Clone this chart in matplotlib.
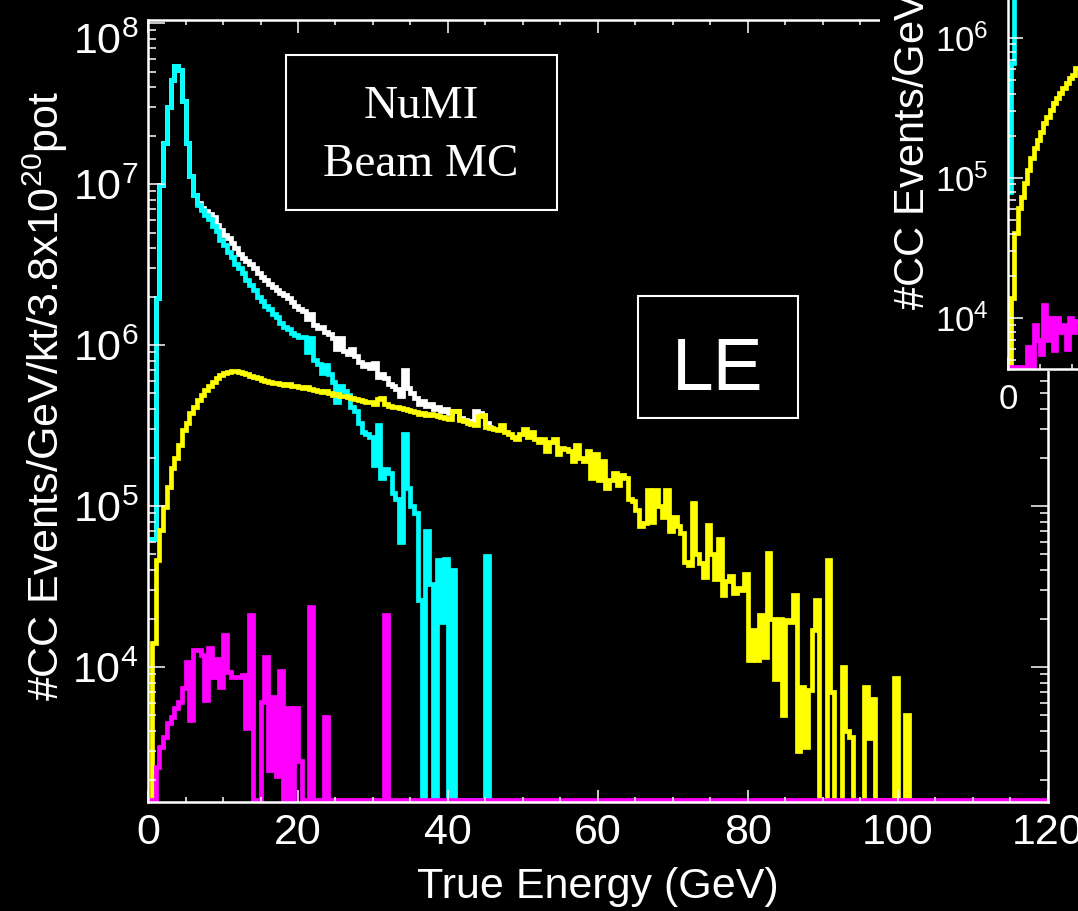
import numpy as np
import matplotlib
matplotlib.use("Agg")
import matplotlib.pyplot as plt
from matplotlib.patches import Rectangle
from matplotlib.transforms import ScaledTranslation
from matplotlib.ticker import LogLocator, LogFormatterSciNotation, MultipleLocator, NullFormatter

plt.rcParams['font.family'] = ['Liberation Sans', 'DejaVu Sans']
plt.rcParams['mathtext.fontset'] = 'custom'
plt.rcParams['mathtext.rm'] = 'Liberation Sans'
plt.rcParams['mathtext.it'] = 'Liberation Sans:italic'
plt.rcParams['mathtext.bf'] = 'Liberation Sans:bold'

# histograms, 0.5 GeV bins starting at 0 GeV (0 = empty bin)
bin_width = 0.5

h_total = [
    6.2e4, 6.2e4, 1.96e6, 9.9e6, 1.8e7, 3.0e7, 4.4e7, 5.4e7, 5.1e7, 3.3e7,      # 0-5
    1.8e7, 1.13e7, 8.5e6, 7.6e6, 7.1e6, 6.8e6, 6.5e6, 6.2e6, 5.6e6, 5.2e6,     # 5-10
    4.8e6, 4.6e6, 4.3e6, 4.0e6, 3.7e6, 3.45e6, 3.35e6, 3.2e6, 3.0e6, 2.8e6,    # 10-15
    2.65e6, 2.55e6, 2.4e6, 2.3e6, 2.2e6, 2.1e6, 2.05e6, 1.95e6, 1.85e6, 1.75e6,  # 15-20
    1.68e6, 1.62e6, 1.45e6, 1.55e6, 1.33e6, 1.28e6, 1.3e6, 1.2e6, 1.17e6, 1.1e6,  # 20-25
    9.4e5, 1.1e6, 9.2e5, 8.8e5, 9.5e5, 8.5e5, 7.9e5, 7.4e5, 7.6e5, 7.2e5,      # 25-30
    7.7e5, 6.3e5, 6.6e5, 6.2e5, 5.7e5, 5.6e5, 5.3e5, 4.8e5, 7.0e5, 5.4e5,      # 30-35
    5.0e5, 4.7e5, 4.3e5, 4.5e5, 4.2e5, 4.3e5, 4.0e5, 4.1e5, 3.9e5, 4.0e5,      # 35-40
    3.8e5, 3.9e5, 3.9e5, 3.5e5, 3.4e5, 3.35e5, 3.3e5, 3.9e5, 3.8e5, 3.7e5,     # 40-45
    3.3e5, 3.1e5,                                                              # 45-46
]

h_pi = [
    6.2e4, 6.2e4, 1.96e6, 9.9e6, 1.8e7, 3.0e7, 4.4e7, 5.4e7, 5.1e7, 3.3e7,      # 0-5
    1.8e7, 1.13e7, 8.5e6, 7.4e6, 6.9e6, 6.4e6, 6.1e6, 5.5e6, 5.1e6, 4.5e6,     # 5-10
    4.2e6, 3.8e6, 3.5e6, 3.2e6, 3.0e6, 2.8e6, 2.55e6, 2.35e6, 2.2e6, 2.0e6,    # 10-15
    1.88e6, 1.75e6, 1.68e6, 1.55e6, 1.5e6, 1.38e6, 1.3e6, 1.25e6, 1.18e6, 1.15e6,  # 15-20
    1.12e6, 1.12e6, 9.0e5, 1.1e6, 8.1e5, 7.6e5, 6.7e5, 7.5e5, 6.6e5, 5.9e5,    # 20-25
    4.4e5, 5.6e5, 5.2e5, 4.9e5, 4.1e5, 3.9e5, 3.3e5, 2.9e5, 2.8e5, 2.7e5,      # 25-30
    1.8e5, 3.2e5, 1.5e5, 1.7e5, 1.6e5, 1.2e5, 1.1e5, 6.0e4, 2.8e5, 1.3e5,      # 30-35
    1.0e5, 9.0e4, 2.6e4, 0, 7.0e4, 3.3e4, 0, 4.6e4, 1.9e4, 4.7e4,             # 35-40
    0, 4.0e4, 0, 0, 0, 0, 0, 0, 0, 0,                                          # 40-45
    4.9e4, 0,                                                                  # 45-46
]

h_k = [
    0, 1.4e4, 4.6e4, 7.1e4, 9.9e4, 1.31e5, 1.72e5, 2.0e5, 2.4e5, 2.97e5,       # 0-5
    3.3e5, 3.8e5, 4.1e5, 4.55e5, 4.9e5, 5.25e5, 5.6e5, 5.9e5, 6.2e5, 6.5e5,    # 5-10
    6.7e5, 6.8e5, 6.85e5, 6.85e5, 6.8e5, 6.7e5, 6.6e5, 6.4e5, 6.3e5, 6.2e5,    # 10-15
    6.1e5, 6.0e5, 5.9e5, 5.85e5, 5.8e5, 5.75e5, 5.65e5, 5.7e5, 5.6e5, 5.55e5,  # 15-20
    5.5e5, 5.4e5, 5.45e5, 5.3e5, 5.25e5, 5.2e5, 5.1e5, 5.15e5, 5.0e5, 4.9e5,   # 20-25
    4.95e5, 4.85e5, 4.8e5, 4.75e5, 4.7e5, 4.6e5, 4.55e5, 4.5e5, 4.45e5, 4.4e5,  # 25-30
    4.3e5, 4.6e5, 4.7e5, 4.3e5, 4.2e5, 4.1e5, 4.15e5, 4.05e5, 4.0e5, 3.95e5,   # 30-35
    3.9e5, 3.85e5, 3.75e5, 3.8e5, 3.7e5, 3.75e5, 3.65e5, 3.6e5, 3.55e5, 3.5e5,  # 35-40
    3.45e5, 3.9e5, 3.9e5, 3.4e5, 3.35e5, 3.3e5, 3.25e5, 3.2e5, 3.6e5, 3.7e5,   # 40-45
    3.1e5, 3.05e5, 3.0e5, 2.95e5, 3.2e5, 2.9e5, 2.8e5, 2.7e5, 2.6e5, 2.8e5,    # 45-50
    3.0e5, 2.7e5, 2.9e5, 2.6e5, 2.5e5, 2.6e5, 2.2e5, 2.5e5, 2.6e5, 2.1e5,      # 50-55
    2.3e5, 2.25e5, 2.2e5, 1.9e5, 2.4e5, 2.0e5, 1.9e5, 2.2e5, 1.5e5, 2.1e5,     # 55-60
    1.45e5, 1.9e5, 1.3e5, 1.45e5, 1.6e5, 1.35e5, 1.55e5, 1.5e5, 1.1e5, 1.08e5,  # 60-65
    9.5e4, 7.5e4, 7.8e4, 1.25e5, 8.0e4, 1.25e5, 1.0e5, 8.5e4, 1.26e5, 7.0e4,   # 65-70
    8.5e4, 7.5e4, 6.8e4, 4.5e4, 4.3e4, 1.05e5, 5.0e4, 4.4e4, 3.6e4, 7.6e4,     # 70-75
    5.0e4, 3.5e4, 6.2e4, 2.8e4, 3.4e4, 3.7e4, 2.9e4, 3.1e4, 3.0e4, 3.8e4,      # 75-80
    1.1e4, 1.7e4, 1.1e4, 2.1e4, 1.15e4, 5.1e4, 2.0e4, 8.4e3, 2.0e4, 5.0e3,     # 80-85
    1.95e4, 1.9e4, 2.8e4, 3.0e3, 7.5e3, 3.2e3, 7.2e3, 1.7e4, 2.6e4, 0,         # 85-90
    0, 4.6e4, 7.0e3, 0, 0, 1.0e4, 4.0e3, 3.7e3, 0, 0,                          # 90-95
    0, 7.5e3, 3.6e3, 6.3e3, 0, 0, 0, 0, 0, 8.5e3,                              # 95-100
    0, 0, 5.0e3, 0,                                                            # 100-102
]

h_mu = [
    0, 0, 2.4e3, 3.2e3, 3.7e3, 4.5e3, 4.9e3, 5.6e3, 6.1e3, 7.4e3,              # 0-5
    1.07e4, 4.7e3, 1.28e4, 1.28e4, 1.19e4, 6.2e3, 1.31e4, 8.7e3, 1.12e4, 7.5e3,  # 5-10
    1.58e4, 9.3e3, 8.7e3, 8.7e3, 8.7e3, 8.9e3, 4.2e3, 2.1e4, 0, 0,             # 10-15
    6.1e3, 1.16e4, 2.3e3, 6.5e3, 2.1e3, 9.5e3, 0, 5.6e3, 0, 5.6e3,             # 15-20
    2.6e3, 0, 0, 2.36e4, 0, 0, 0, 4.9e3, 0, 0,                                 # 20-25
    0, 0, 0, 0, 0, 0, 0, 0, 0, 0,                                              # 25-30
    0, 0, 0, 2.1e4,                                                            # 30-32
] + [0] * 176                                                                  # 32-120

# second panel on the slide (only its low-energy corner is shown)
inset_pi = [7.9e4, 6.6e5, 3.0e6]
inset_k = [0, 1.39e4, 4.05e4, 6.1e4, 7.3e4, 9.2e4, 1.14e5, 1.39e5, 1.64e5, 1.87e5,
           2.13e5, 2.47e5, 2.73e5, 3.06e5, 3.43e5, 3.73e5, 4.05e5, 4.4e5, 4.77e5,
           5.18e5, 5.44e5, 6.1e5]
inset_mu = [0, 0, 0, 0, 0, 0, 6.2e3, 0, 8.9e3, 7.0e3, 5.5e3, 1.24e4, 7.0e3, 1.0e4,
            5.9e3, 1.0e4, 8.0e3, 9.0e3, 6.0e3, 1.0e4, 8.0e3, 9.5e3]

W, H = 1078, 911
LW = 3.4


def fx(px):
    return px / W


def fy(py):
    return 1 - py / H


def draw_hists(ax, series, floor):
    for vals, col in series:
        v = np.maximum(np.asarray(vals, float), floor)
        edges = np.arange(len(v) + 1) * bin_width
        ax.stairs(v, edges, baseline=None, color=col, lw=LW, joinstyle='miter')


def log_axis(ax):
    ax.yaxis.set_major_locator(LogLocator(base=10, numticks=20))
    ax.yaxis.set_minor_locator(LogLocator(base=10, subs=np.arange(2, 10), numticks=20))
    ax.yaxis.set_major_formatter(LogFormatterSciNotation())
    ax.yaxis.set_minor_formatter(NullFormatter())
    ax.xaxis.set_major_locator(MultipleLocator(20))
    ax.xaxis.set_minor_locator(MultipleLocator(5))
    for s in ax.spines.values():
        s.set_color('white')
        s.set_linewidth(1.8)


fig = plt.figure(figsize=(W / 100, H / 100), dpi=100, facecolor='black')

# main LE panel
ax = fig.add_axes([fx(148), fy(802), fx(1048) - fx(148), fy(20) - fy(802)])
ax.set_facecolor('black')
ax.set_yscale('log')
ax.set_xlim(0, 120)
ax.set_ylim(1.45e3, 1.045e8)

draw_hists(ax, [(h_total, 'white'), (h_pi, '#00ffff'),
                (h_k, '#ffff00'), (h_mu, '#ff00ff')], 1.5e3)
log_axis(ax)

ax.tick_params(which='both', direction='in', colors='white', top=True, right=True,
               labelsize=31, width=1.1)
ax.tick_params(axis='y', which='major', length=12, pad=7)
ax.tick_params(axis='y', which='minor', length=6)
ax.tick_params(axis='x', which='major', length=9, pad=8)
ax.tick_params(axis='x', which='minor', length=3.6)

ax.set_xlabel('True Energy (GeV)', color='white', fontsize=31, labelpad=10)
ax.set_ylabel('#CC Events/GeV/kt/3.8x10$^{20}$pot', color='white', fontsize=31)
ax.yaxis.set_label_coords(-0.087, 0.519)

# NuMI label box
ax.add_patch(Rectangle((0.1533, 0.757), 0.301, 0.198, transform=ax.transAxes,
                       fill=False, ec='white', lw=1.5))
ax.text(0.3033, 0.889, 'NuMI', transform=ax.transAxes, ha='center', va='center',
        color='white', fontsize=34, family='Liberation Serif')
ax.text(0.3033, 0.8146, 'Beam MC', transform=ax.transAxes, ha='center', va='center',
        color='white', fontsize=34, family='Liberation Serif')

# LE tag
ax.add_patch(Rectangle((0.5444, 0.491), 0.1778, 0.156, transform=ax.transAxes,
                       fill=False, ec='white', lw=1.5))
ax.text(0.6333, 0.5524, 'LE', transform=ax.transAxes, ha='center', va='center',
        color='white', fontsize=54)

# neighbouring panel pasted over the top right corner
fig.patches.append(Rectangle((fx(880), fy(371)), 1 - fx(880), fy(0) - fy(371),
                             transform=fig.transFigure, fc='black', ec='none', zorder=1))

ax2 = fig.add_axes([fx(1008), fy(369), 128 / W, fy(0) - fy(369)], zorder=2)
ax2.set_facecolor('black')
ax2.set_yscale('log')
ax2.set_xlim(0, 20)
ax2.set_ylim(4.33e3, 1.87e6)
draw_hists(ax2, [(inset_pi, '#00ffff'), (inset_k, '#ffff00'), (inset_mu, '#ff00ff')], 4.5e3)
log_axis(ax2)
ax2.spines['top'].set_visible(False)
ax2.tick_params(which='both', direction='in', colors='white', labelsize=25, width=1.1)
ax2.tick_params(axis='y', which='major', length=11, pad=14)
ax2.tick_params(axis='y', which='minor', length=5.5)
ax2.tick_params(axis='x', which='major', length=9, pad=10)
ax2.tick_params(axis='x', which='minor', length=3.6)

fig.text(fx(911), fy(310), '#CC Events/GeV/kt/3.8x10$^{20}$pot', rotation=90,
         ha='center', va='bottom', color='white', fontsize=30, zorder=3)

# the top decade label sits a little lower, clear of the frame
fig.canvas.draw()
for tick in ax.yaxis.get_major_ticks():
    if np.isclose(tick.get_loc(), 1e8):
        lab = tick.label1
        lab.set_transform(lab.get_transform() + ScaledTranslation(0, -11 / 72, fig.dpi_scale_trans))

fig.savefig('out.png', dpi=100, facecolor='black')
